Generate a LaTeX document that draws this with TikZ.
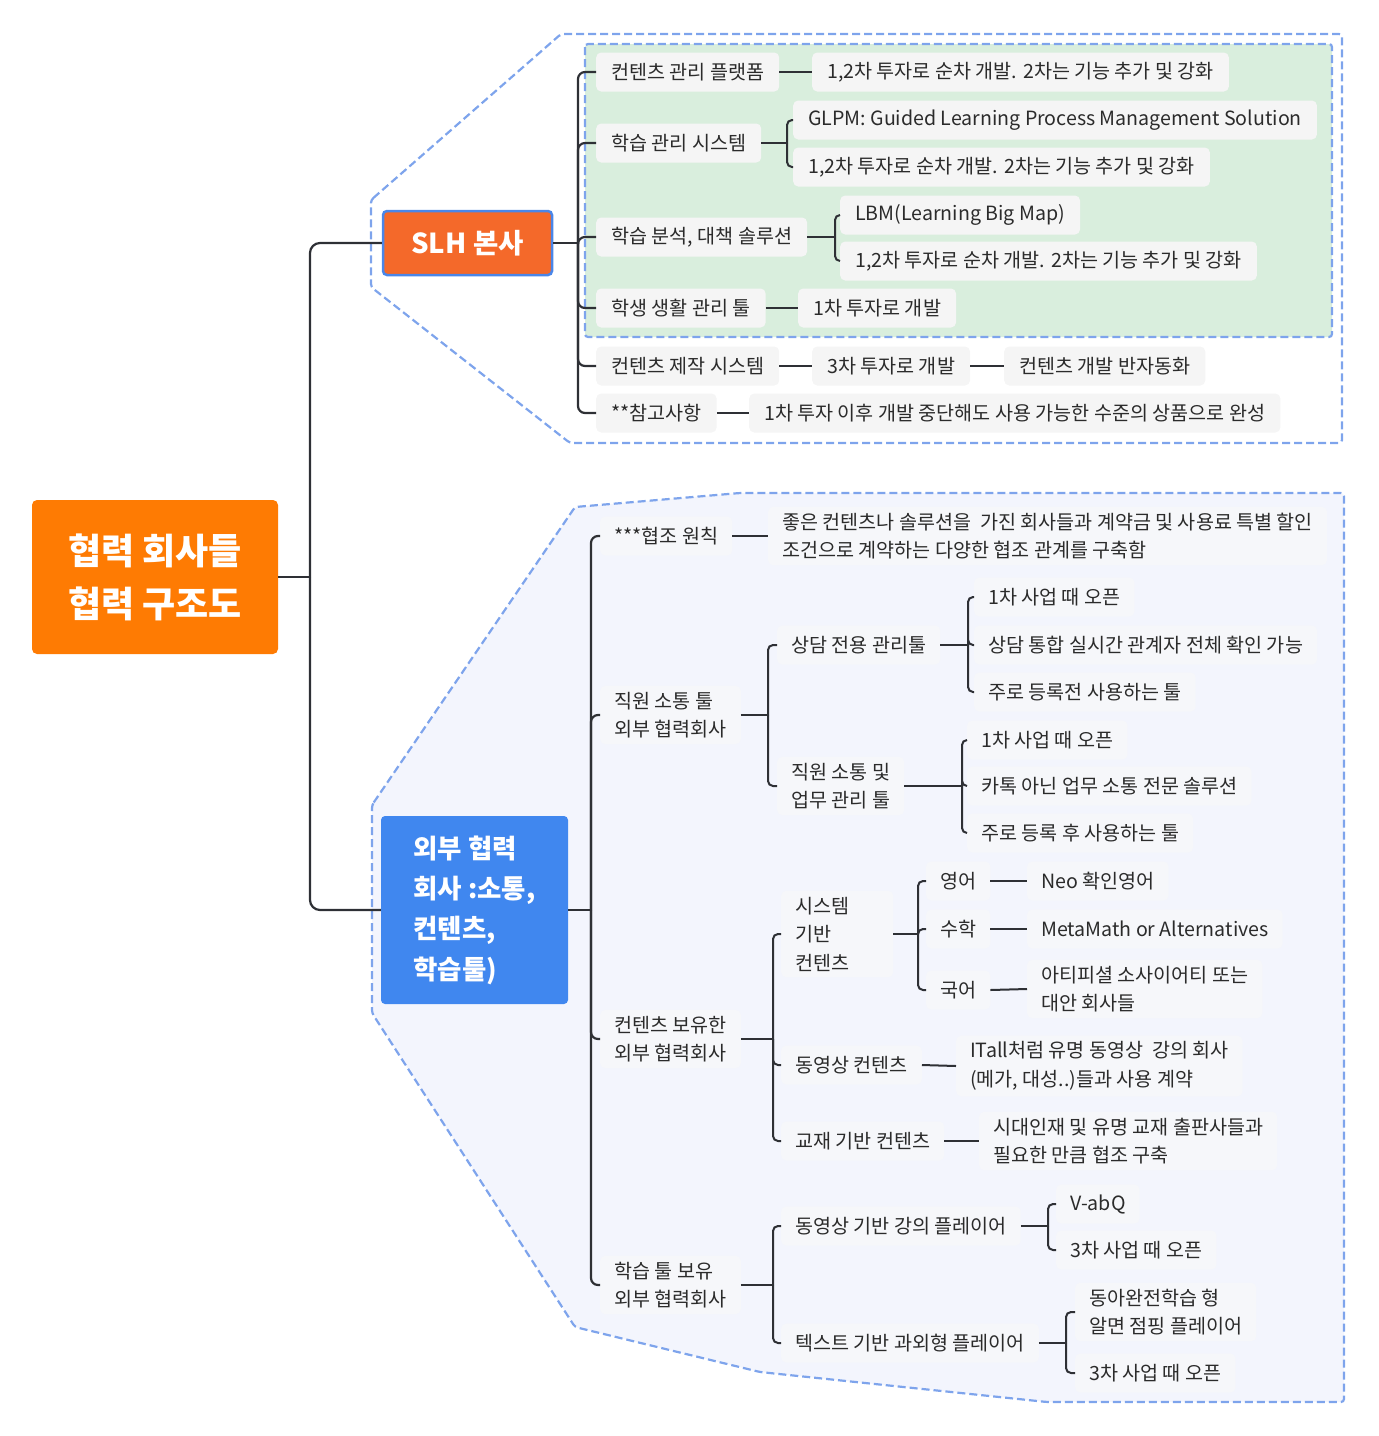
\documentclass[tikz,border=0pt]{standalone}
\usepackage{fontspec}
\setmainfont{Noto Sans CJK KR}
\definecolor{rootc}{HTML}{FE7B03}
\definecolor{slhc}{HTML}{F4692A}
\definecolor{extc}{HTML}{4087EF}
\definecolor{bluec}{HTML}{4A86E8}
\definecolor{boundc}{HTML}{7EA4EC}
\definecolor{greenc}{HTML}{D9EEDD}
\definecolor{lowc}{HTML}{F3F5FD}
\definecolor{boxg}{HTML}{F5F5F5}
\definecolor{boxl}{HTML}{F6F7FA}
\definecolor{txt}{HTML}{2B2B2B}
\definecolor{linec}{HTML}{2E3035}
\begin{document}
\begin{tikzpicture}[x=1pt,y=-1pt,
  bound/.style={draw=boundc, line width=2.2pt, dash pattern=on 8pt off 4pt, rounded corners=3pt},
  conn/.style={draw=linec, line width=2.2pt, rounded corners=7pt},
  brk/.style={draw=linec, line width=2pt, rounded corners=5pt},
  ubox/.style={rounded corners=5pt, fill=boxg, text=txt, font=\fontsize{19.6}{27}\selectfont, inner xsep=15pt, inner ysep=0pt, minimum height=39pt, anchor=west, align=left},
  lbox/.style={rounded corners=5pt, fill=boxl, text=txt, font=\fontsize{19.6}{28.5}\selectfont, inner xsep=14pt, inner ysep=6pt, minimum height=39pt, anchor=west, align=left},
  rootbox/.style={fill=rootc, text=white, font=\bfseries\fontsize{36}{53}\selectfont, minimum width=246pt, minimum height=154pt, rounded corners=5pt, align=center, inner sep=0pt},
  slhbox/.style={fill=slhc, draw=bluec, line width=2.5pt, text=white, font=\bfseries\fontsize{27.5}{32}\selectfont, minimum width=169pt, minimum height=64pt, rounded corners=4pt, inner sep=0pt},
  extbox/.style={fill=extc, text=white, font=\bfseries\fontsize{26.5}{40.3}\selectfont, minimum width=187pt, minimum height=188pt, rounded corners=4pt, align=left, inner sep=0pt}
]
\useasboundingbox (0,0) rectangle (1379,1436);
% group boundaries
\draw[bound] (371,200) -- (561,34) -- (1342,34) -- (1342,443) -- (570,443) -- (371,287) -- cycle;
\draw[bound, fill=greenc] (585,44) rectangle (1332,337);
\draw[bound, fill=lowc] (372,805) -- (575,507) -- (740,493) -- (1344,493) -- (1344,1402) -- (1047,1402) -- (760,1372) -- (575,1327) -- (372,1013) -- cycle;

% main nodes
\node[rootbox] (root) at (155,577) {협력 회사들\\협력 구조도};
\node[slhbox] (slh) at (467.5,243) {SLH 본사};
\node[extbox] (ext) at (474.5,910) {외부 협력\\회사 :소통,\\컨텐츠,\\학습툴)};

% upper nodes
\node[ubox] (c1) at (596,72) {컨텐츠 관리 플랫폼};
\node[ubox] (n11) at (812,72) {1,2차 투자로 순차 개발. 2차는 기능 추가 및 강화};
\node[ubox] (c2) at (596,143) {학습 관리 시스템};
\node[ubox] (n21) at (793,120) {GLPM: Guided Learning Process Management Solution};
\node[ubox] (n22) at (793,167) {1,2차 투자로 순차 개발. 2차는 기능 추가 및 강화};
\node[ubox] (c3) at (596,237) {학습 분석, 대책 솔루션};
\node[ubox] (n31) at (840,215) {LBM(Learning Big Map)};
\node[ubox] (n32) at (840,261) {1,2차 투자로 순차 개발. 2차는 기능 추가 및 강화};
\node[ubox] (c4) at (596,308) {학생 생활 관리 툴};
\node[ubox] (n41) at (798,308) {1차 투자로 개발};
\node[ubox] (c5) at (596,366) {컨텐츠 제작 시스템};
\node[ubox] (n51) at (812,366) {3차 투자로 개발};
\node[ubox] (n52) at (1004,366) {컨텐츠 개발 반자동화};
\node[ubox] (c6) at (596,413) {**참고사항};
\node[ubox] (n61) at (749,413) {1차 투자 이후 개발 중단해도 사용 가능한 수준의 상품으로 완성};

% lower nodes
\node[lbox] (L1) at (600,536) {***협조 원칙};
\node[lbox] (L1n) at (768,536) {좋은 컨텐츠나 솔루션을~ 가진 회사들과 계약금 및 사용료 특별 할인\\조건으로 계약하는 다양한 협조 관계를 구축함};
\node[lbox] (L2) at (600,715) {직원 소통 툴\\외부 협력회사};
\node[lbox] (L21) at (777,645) {상담 전용 관리툴};
\node[lbox] (L211) at (974,597) {1차 사업 때 오픈};
\node[lbox] (L212) at (974,645) {상담 통합 실시간 관계자 전체 확인 가능};
\node[lbox] (L213) at (974,692) {주로 등록전 사용하는 툴};
\node[lbox] (L22) at (777,786) {직원 소통 및\\업무 관리 툴};
\node[lbox] (L221) at (967,740) {1차 사업 때 오픈};
\node[lbox] (L222) at (967,786) {카톡 아닌 업무 소통 전문 솔루션};
\node[lbox] (L223) at (967,833) {주로 등록 후 사용하는 툴};
\node[lbox] (L3) at (600,1039) {컨텐츠 보유한\\외부 협력회사};
\node[lbox, text width=84pt] (L31) at (781,934) {시스템\\기반\\컨텐츠};
\node[lbox] (L311) at (926,881) {영어};
\node[lbox] (L3111) at (1027,881) {Neo 확인영어};
\node[lbox] (L312) at (926,929) {수학};
\node[lbox] (L3121) at (1027,929) {MetaMath or Alternatives};
\node[lbox] (L313) at (926,990) {국어};
\node[lbox] (L3131) at (1027,989) {아티피셜 소사이어티 또는\\대안 회사들};
\node[lbox] (L32) at (781,1065) {동영상 컨텐츠};
\node[lbox] (L321) at (956,1066) {ITall처럼 유명 동영상~ 강의 회사\\(메가, 대성..)들과 사용 계약};
\node[lbox] (L33) at (781,1141) {교재 기반 컨텐츠};
\node[lbox] (L331) at (979,1141) {시대인재 및 유명 교재 출판사들과\\필요한 만큼 협조 구축};
\node[lbox] (L4) at (600,1285) {학습 툴 보유\\외부 협력회사};
\node[lbox] (L41) at (781,1226) {동영상 기반 강의 플레이어};
\node[lbox] (L411) at (1056,1204) {V-abQ};
\node[lbox] (L412) at (1056,1250) {3차 사업 때 오픈};
\node[lbox] (L42) at (781,1343) {텍스트 기반 과외형 플레이어};
\node[lbox] (L421) at (1075,1312) {동아완전학습 형\\알면 점핑 플레이어};
\node[lbox] (L422) at (1075,1373) {3차 사업 때 오픈};

% junction coordinates
\coordinate (j0) at (310,577);
\coordinate (j1) at (578,243);
\coordinate (j2) at (787,143);
\coordinate (j3) at (835,237);
\coordinate (j4) at (591,910);
\coordinate (b2) at (768,715);
\coordinate (b21) at (968,645);
\coordinate (b22) at (962,786);
\coordinate (b3) at (773,1039);
\coordinate (b31) at (918,934);
\coordinate (b4) at (773,1285);
\coordinate (b41) at (1048,1226);
\coordinate (b42) at (1066,1343);

% main connectors
\draw[conn] (root.east) -- (j0);
\draw[conn, rounded corners=10pt] (j0) |- (slh.west);
\draw[conn, rounded corners=10pt] (j0) |- (ext.west);

% upper connectors
\draw[conn] (slh.east) -- (j1);
\foreach \c in {c1,c2,c3,c4,c5,c6} { \draw[conn] (j1) |- (\c.west); }
\draw[brk] (c1.east) -- (n11.west);
\draw[brk] (c2.east) -- (j2);
\draw[brk] (j2) |- (n21.west);
\draw[brk] (j2) |- (n22.west);
\draw[brk] (c3.east) -- (j3);
\draw[brk] (j3) |- (n31.west);
\draw[brk] (j3) |- (n32.west);
\draw[brk] (c4.east) -- (n41.west);
\draw[brk] (c5.east) -- (n51.west);
\draw[brk] (n51.east) -- (n52.west);
\draw[brk] (c6.east) -- (n61.west);

% lower connectors
\draw[conn] (ext.east) -- (j4);
\foreach \c in {L1,L2,L3,L4} { \draw[conn] (j4) |- (\c.west); }
\draw[brk] (L1.east) -- (L1n.west);
\draw[brk] (L2.east) -- (b2);
\foreach \c in {L21,L22} { \draw[brk] (b2) |- (\c.west); }
\draw[brk] (L21.east) -- (b21);
\foreach \c in {L211,L212,L213} { \draw[brk] (b21) |- (\c.west); }
\draw[brk] (L22.east) -- (b22);
\foreach \c in {L221,L222,L223} { \draw[brk] (b22) |- (\c.west); }
\draw[brk] (L3.east) -- (b3);
\foreach \c in {L31,L32,L33} { \draw[brk] (b3) |- (\c.west); }
\draw[brk] (L31.east) -- (b31);
\foreach \c in {L311,L312,L313} { \draw[brk] (b31) |- (\c.west); }
\draw[brk] (L311.east) -- (L3111.west);
\draw[brk] (L312.east) -- (L3121.west);
\draw[brk] (L313.east) -- (L3131.west);
\draw[brk] (L32.east) -- (L321.west);
\draw[brk] (L33.east) -- (L331.west);
\draw[brk] (L4.east) -- (b4);
\foreach \c in {L41,L42} { \draw[brk] (b4) |- (\c.west); }
\draw[brk] (L41.east) -- (b41);
\foreach \c in {L411,L412} { \draw[brk] (b41) |- (\c.west); }
\draw[brk] (L42.east) -- (b42);
\foreach \c in {L421,L422} { \draw[brk] (b42) |- (\c.west); }
\end{tikzpicture}
\end{document}
